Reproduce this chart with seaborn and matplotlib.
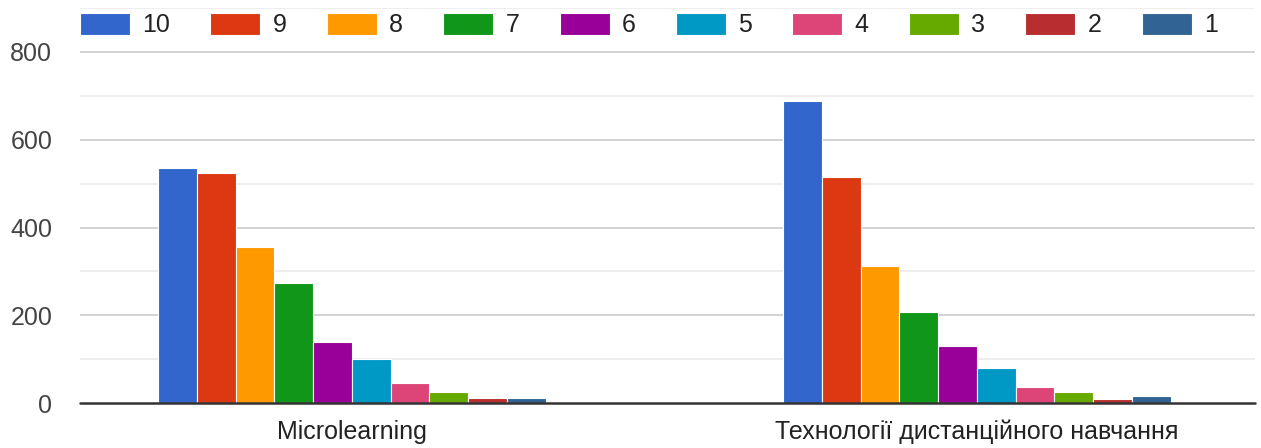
import pandas as pd
import matplotlib
matplotlib.use("Agg")
import matplotlib.pyplot as plt
import seaborn as sns

# --- Data ---
categories = ["Microlearning", "Технології дистанційного навчання"]
ratings = ["10", "9", "8", "7", "6", "5", "4", "3", "2", "1"]
microlearning = [535, 525, 356, 273, 140, 100, 45, 26, 11, 11]
distance_tech = [688, 514, 312, 208, 129, 80, 36, 25, 10, 16]
colors = ["#3366cc", "#dc3912", "#ff9900", "#109618", "#990099",
          "#0099c6", "#dd4477", "#66aa00", "#b82e2e", "#316395"]

df = pd.DataFrame({
    "category": [categories[0]] * len(ratings) + [categories[1]] * len(ratings),
    "rating": ratings * 2,
    "count": microlearning + distance_tech,
})

# --- Plotting ---
sns.set_theme(style="white")
plt.rcParams["font.family"] = ["Liberation Sans", "DejaVu Sans"]

fig = plt.figure(figsize=(12.61, 4.48), dpi=100)
ax = fig.add_axes([0.0634, 0.1004, 0.9318, 0.8815])

sns.barplot(
    data=df, x="category", y="count", hue="rating",
    order=categories, hue_order=ratings,
    palette=colors, saturation=1, width=0.62, gap=0,
    edgecolor="white", linewidth=0.8,
    ax=ax,
)

# gridlines: major every 200, minor every 100
for v in range(100, 1000, 200):
    ax.axhline(v, color="#ebebeb", linewidth=1.2, zorder=0)
for v in range(200, 1000, 200):
    ax.axhline(v, color="#cccccc", linewidth=1.2, zorder=0)
ax.axhline(0, color="#333333", linewidth=1.8, zorder=5, clip_on=False)

ax.set_ylim(0, 900)
ax.set_xlim(-0.435, 1.445)
ax.set_yticks(range(0, 900, 200))
ax.tick_params(axis="y", length=0, pad=20, labelsize=18, labelcolor="#444444")
ax.tick_params(axis="x", length=0, pad=12, labelsize=18, labelcolor="#222222")
ax.set_xlabel("")
ax.set_ylabel("")
sns.despine(ax=ax, left=True, bottom=True, top=True, right=True)

# legend on one row at the top
handles, labels = ax.get_legend_handles_labels()
ax.legend(
    handles, labels, ncol=10, frameon=False,
    loc="center left", bbox_to_anchor=(0.0634, 0.944),
    bbox_transform=fig.transFigure,
    fontsize=18, handlelength=2.0, handleheight=1.0,
    handletextpad=0.5, columnspacing=1.6,
    borderpad=0, borderaxespad=0, labelcolor="#222222",
)

fig.savefig("out.png", dpi=100)
plt.close(fig)
